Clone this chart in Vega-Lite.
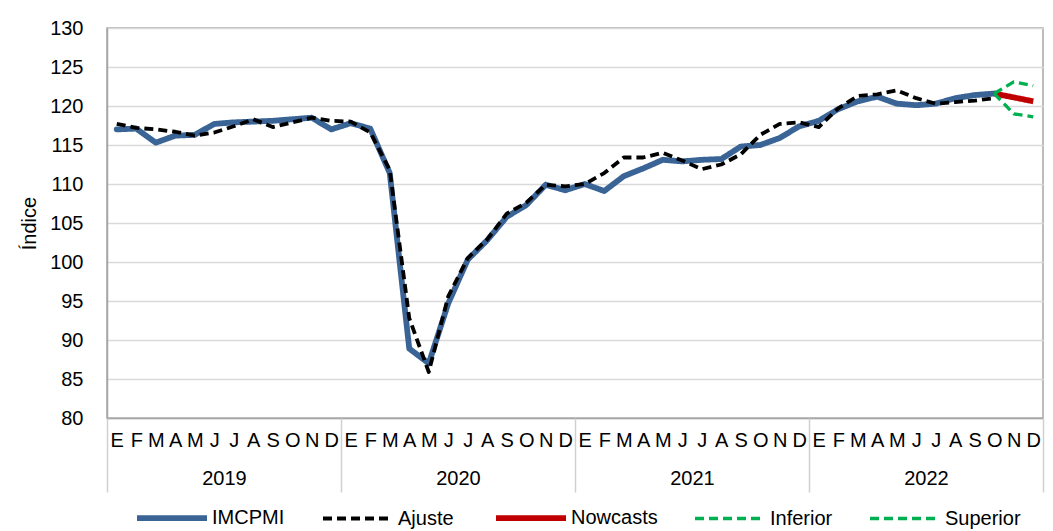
{
  "$schema": "https://vega.github.io/schema/vega-lite/v6.json",
  "width": 936,
  "height": 390,
  "autosize": "none",
  "padding": {"left": 107, "top": 28, "right": 10, "bottom": 113},
  "background": "white",
  "config": {
    "font": "Liberation Sans",
    "view": {"stroke": "#A6A6A6", "strokeWidth": 1.5},
    "axis": {"labelFont": "Liberation Sans", "labelFontSize": 20, "labelColor": "#000000", "titleFont": "Liberation Sans", "titleColor": "#000000"},
    "legend": {
      "orient": "none", "legendX": 27, "legendY": 452, "direction": "horizontal", "columns": 5,
      "symbolType": "stroke", "symbolSize": 4900, "labelFont": "Liberation Sans", "labelFontSize": 20,
      "labelColor": "#000000", "labelOffset": 2, "columnPadding": 30, "title": null, "padding": 0
    }
  },
  "data": {"values": [
    {"t":0,"serie":"IMCPMI","valor":117.0},{"t":1,"serie":"IMCPMI","valor":117.1},{"t":2,"serie":"IMCPMI","valor":115.3},{"t":3,"serie":"IMCPMI","valor":116.2},{"t":4,"serie":"IMCPMI","valor":116.3},{"t":5,"serie":"IMCPMI","valor":117.7},{"t":6,"serie":"IMCPMI","valor":117.9},{"t":7,"serie":"IMCPMI","valor":118.0},{"t":8,"serie":"IMCPMI","valor":118.1},{"t":9,"serie":"IMCPMI","valor":118.3},{"t":10,"serie":"IMCPMI","valor":118.5},{"t":11,"serie":"IMCPMI","valor":117.0},
    {"t":12,"serie":"IMCPMI","valor":117.8},{"t":13,"serie":"IMCPMI","valor":117.1},{"t":14,"serie":"IMCPMI","valor":111.4},{"t":15,"serie":"IMCPMI","valor":88.9},{"t":16,"serie":"IMCPMI","valor":87.0},{"t":17,"serie":"IMCPMI","valor":94.7},{"t":18,"serie":"IMCPMI","valor":100.3},{"t":19,"serie":"IMCPMI","valor":102.8},{"t":20,"serie":"IMCPMI","valor":105.8},{"t":21,"serie":"IMCPMI","valor":107.3},{"t":22,"serie":"IMCPMI","valor":109.9},{"t":23,"serie":"IMCPMI","valor":109.2},
    {"t":24,"serie":"IMCPMI","valor":110.0},{"t":25,"serie":"IMCPMI","valor":109.1},{"t":26,"serie":"IMCPMI","valor":111.0},{"t":27,"serie":"IMCPMI","valor":112.0},{"t":28,"serie":"IMCPMI","valor":113.1},{"t":29,"serie":"IMCPMI","valor":112.9},{"t":30,"serie":"IMCPMI","valor":113.1},{"t":31,"serie":"IMCPMI","valor":113.2},{"t":32,"serie":"IMCPMI","valor":114.8},{"t":33,"serie":"IMCPMI","valor":115.0},{"t":34,"serie":"IMCPMI","valor":115.9},{"t":35,"serie":"IMCPMI","valor":117.4},
    {"t":36,"serie":"IMCPMI","valor":118.1},{"t":37,"serie":"IMCPMI","valor":119.6},{"t":38,"serie":"IMCPMI","valor":120.6},{"t":39,"serie":"IMCPMI","valor":121.2},{"t":40,"serie":"IMCPMI","valor":120.3},{"t":41,"serie":"IMCPMI","valor":120.1},{"t":42,"serie":"IMCPMI","valor":120.3},{"t":43,"serie":"IMCPMI","valor":121.0},{"t":44,"serie":"IMCPMI","valor":121.4},{"t":45,"serie":"IMCPMI","valor":121.6},
    {"t":0,"serie":"Ajuste","valor":117.7},{"t":1,"serie":"Ajuste","valor":117.2},{"t":2,"serie":"Ajuste","valor":117.0},{"t":3,"serie":"Ajuste","valor":116.7},{"t":4,"serie":"Ajuste","valor":116.2},{"t":5,"serie":"Ajuste","valor":116.6},{"t":6,"serie":"Ajuste","valor":117.4},{"t":7,"serie":"Ajuste","valor":118.3},{"t":8,"serie":"Ajuste","valor":117.3},{"t":9,"serie":"Ajuste","valor":117.9},{"t":10,"serie":"Ajuste","valor":118.5},{"t":11,"serie":"Ajuste","valor":118.1},
    {"t":12,"serie":"Ajuste","valor":118.0},{"t":13,"serie":"Ajuste","valor":116.6},{"t":14,"serie":"Ajuste","valor":111.8},{"t":15,"serie":"Ajuste","valor":92.8},{"t":16,"serie":"Ajuste","valor":85.9},{"t":17,"serie":"Ajuste","valor":95.6},{"t":18,"serie":"Ajuste","valor":100.5},{"t":19,"serie":"Ajuste","valor":102.9},{"t":20,"serie":"Ajuste","valor":106.2},{"t":21,"serie":"Ajuste","valor":107.6},{"t":22,"serie":"Ajuste","valor":109.9},{"t":23,"serie":"Ajuste","valor":109.7},
    {"t":24,"serie":"Ajuste","valor":110.0},{"t":25,"serie":"Ajuste","valor":111.4},{"t":26,"serie":"Ajuste","valor":113.4},{"t":27,"serie":"Ajuste","valor":113.4},{"t":28,"serie":"Ajuste","valor":114.0},{"t":29,"serie":"Ajuste","valor":113.0},{"t":30,"serie":"Ajuste","valor":111.9},{"t":31,"serie":"Ajuste","valor":112.5},{"t":32,"serie":"Ajuste","valor":113.8},{"t":33,"serie":"Ajuste","valor":116.3},{"t":34,"serie":"Ajuste","valor":117.7},{"t":35,"serie":"Ajuste","valor":117.9},
    {"t":36,"serie":"Ajuste","valor":117.3},{"t":37,"serie":"Ajuste","valor":119.7},{"t":38,"serie":"Ajuste","valor":121.3},{"t":39,"serie":"Ajuste","valor":121.5},{"t":40,"serie":"Ajuste","valor":122.0},{"t":41,"serie":"Ajuste","valor":121.0},{"t":42,"serie":"Ajuste","valor":120.3},{"t":43,"serie":"Ajuste","valor":120.5},{"t":44,"serie":"Ajuste","valor":120.7},{"t":45,"serie":"Ajuste","valor":121.0},
    {"t":45,"serie":"Nowcasts","valor":121.6},{"t":46,"serie":"Nowcasts","valor":121.1},{"t":47,"serie":"Nowcasts","valor":120.6},
    {"t":45,"serie":"Inferior","valor":121.6},{"t":46,"serie":"Inferior","valor":119.0},{"t":47,"serie":"Inferior","valor":118.6},
    {"t":45,"serie":"Superior","valor":121.6},{"t":46,"serie":"Superior","valor":123.1},{"t":47,"serie":"Superior","valor":122.6}
  ]},
  "encoding": {
    "y": {
      "field": "valor", "type": "quantitative",
      "scale": {"domain": [80, 130], "nice": false, "zero": false},
      "axis": {
        "values": [80, 85, 90, 95, 100, 105, 110, 115, 120, 125, 130],
        "grid": true, "gridColor": "#D9D9D9", "gridWidth": 1.5,
        "ticks": false, "domainColor": "#A6A6A6", "domainWidth": 1.5, "labelPadding": 24,
        "title": "Índice", "titleFontSize": 20, "titleFontWeight": "normal", "titlePadding": 10
      }
    },
    "color": {
      "field": "serie", "type": "nominal",
      "scale": {"domain": ["IMCPMI", "Ajuste", "Nowcasts", "Inferior", "Superior"], "range": ["#3A6496", "#000000", "#C00000", "#00B050", "#00B050"]},
      "legend": {"title": null}
    },
    "strokeDash": {
      "field": "serie", "type": "nominal",
      "scale": {"domain": ["IMCPMI", "Ajuste", "Nowcasts", "Inferior", "Superior"], "range": [[1, 0], [9, 5], [1, 0], [9, 5], [9, 5]]},
      "legend": {"title": null}
    },
    "strokeWidth": {
      "field": "serie", "type": "nominal",
      "scale": {"type": "ordinal", "domain": ["IMCPMI", "Ajuste", "Nowcasts", "Inferior", "Superior"], "range": [5.8, 3.8, 5.8, 3.3, 3.3]},
      "legend": {"title": null}
    }
  },
  "layer": [
    {
      "transform": [{"filter": "datum.serie === 'IMCPMI'"}],
      "mark": {"type": "line", "strokeJoin": "round", "strokeCap": "round"},
      "encoding": {
        "x": {
          "field": "t", "type": "quantitative",
          "scale": {"domain": [-0.5, 47.5], "nice": false, "zero": false},
          "axis": {
            "orient": "bottom", "title": null,
            "values": [0,1,2,3,4,5,6,7,8,9,10,11,12,13,14,15,16,17,18,19,20,21,22,23,24,25,26,27,28,29,30,31,32,33,34,35,36,37,38,39,40,41,42,43,44,45,46,47],
            "labelExpr": "['E','F','M','A','M','J','J','A','S','O','N','D'][datum.value % 12]",
            "ticks": false, "grid": false, "labelFlush": false, "labelOverlap": false, "labelAngle": 0,
            "labelPadding": 12, "domainColor": "#A6A6A6", "domainWidth": 1.5
          }
        }
      }
    },
    {
      "transform": [{"filter": "datum.serie === 'Ajuste'"}],
      "mark": {"type": "line", "strokeJoin": "round", "strokeCap": "butt"},
      "encoding": {
        "x": {
          "field": "t", "type": "quantitative",
          "scale": {"domain": [-0.5, 47.5], "nice": false, "zero": false},
          "axis": {
            "orient": "bottom", "title": null, "values": [5.5, 17.5, 29.5, 41.5],
            "labelExpr": "'' + (2019 + floor(datum.value / 12))",
            "ticks": false, "grid": false, "domain": false, "labelFlush": false, "labelOverlap": false,
            "offset": 38, "labelPadding": 12
          }
        }
      }
    },
    {
      "transform": [{"filter": "datum.serie === 'Nowcasts'"}],
      "mark": {"type": "line", "strokeJoin": "round", "strokeCap": "butt"},
      "encoding": {
        "x": {
          "field": "t", "type": "quantitative",
          "scale": {"domain": [-0.5, 47.5], "nice": false, "zero": false},
          "axis": {
            "orient": "bottom", "title": null, "values": [-0.5, 11.5, 23.5, 35.5, 47.5],
            "labels": false, "ticks": true, "tickSize": 74, "tickColor": "#D0D0D0", "tickWidth": 1.5,
            "grid": false, "domain": false
          }
        }
      }
    },
    {
      "transform": [{"filter": "datum.serie === 'Inferior' || datum.serie === 'Superior'"}],
      "mark": {"type": "line", "strokeJoin": "round", "strokeCap": "butt"},
      "encoding": {
        "x": {
          "field": "t", "type": "quantitative",
          "scale": {"domain": [-0.5, 47.5], "nice": false, "zero": false},
          "axis": null
        }
      }
    }
  ],
  "resolve": {"axis": {"x": "independent"}}
}
